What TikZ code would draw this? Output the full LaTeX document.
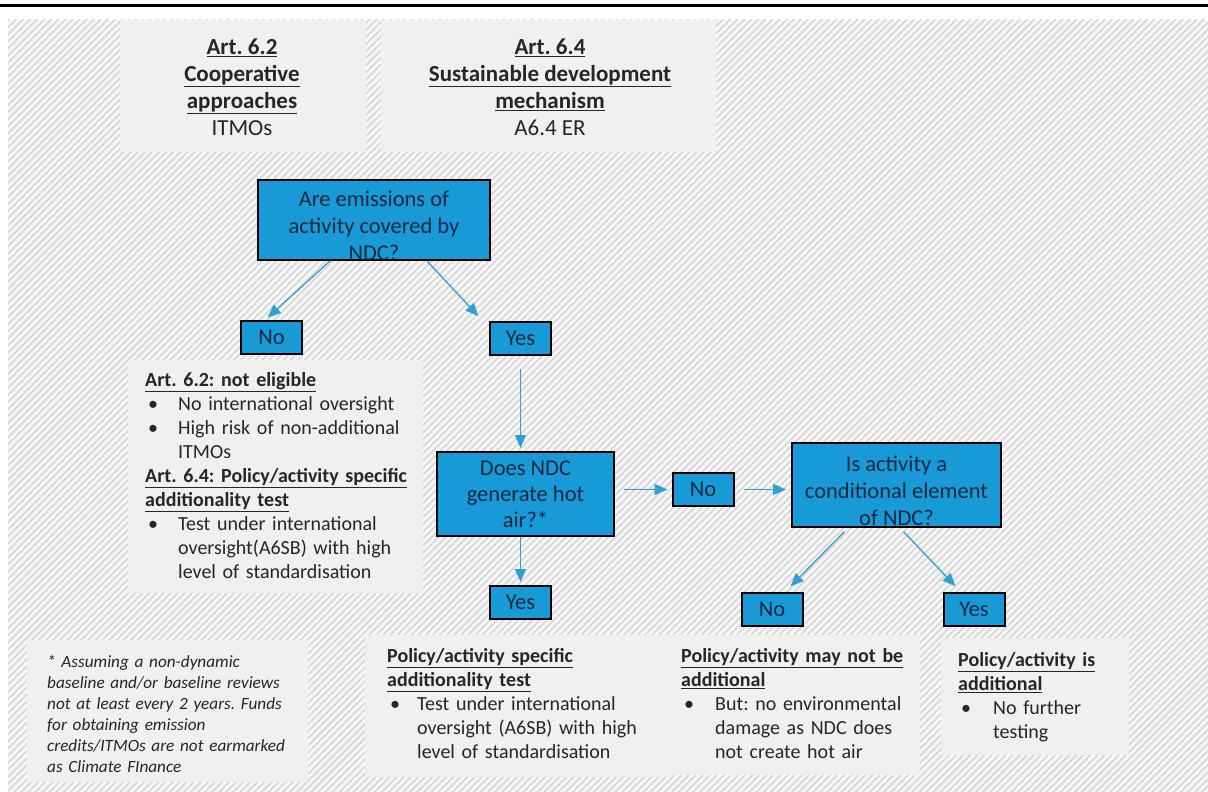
\documentclass[tikz,border=0pt]{standalone}
\usepackage{fontspec}
\setmainfont{Carlito}
\usepackage{tikz}
\usetikzlibrary{arrows.meta,patterns.meta,calc}
\usepackage{xcolor}

\definecolor{boxblue}{RGB}{24,154,214}
\definecolor{boxtext}{RGB}{25,40,65}
\definecolor{arrblue}{RGB}{48,160,210}
\definecolor{panelgrey}{RGB}{240,240,240}
\definecolor{hatchbg}{RGB}{246,246,246}
\definecolor{hatchline}{RGB}{214,214,214}

\newcommand{\hd}[1]{\textbf{\underline{#1}}}
\newcommand{\bitem}[2][30pt]{\par\noindent\hspace*{3pt}\makebox[\dimexpr#1-3pt\relax][l]{\textbullet}%
    \parbox[t]{240pt}{\raggedright#2\strut}\par\prevdepth=\dp\strutbox}
\newcommand{\lowstrut}{\rule{0pt}{26pt}}

\begin{document}
\begin{tikzpicture}[x=1pt, y=-1pt,
    qbox/.style={draw=black, line width=2pt, fill=boxblue, text=boxtext, align=center,
        inner sep=2pt, font=\fontsize{22.5}{26}\selectfont},
    lowbox/.style={qbox, font=\fontsize{22.5}{27}\selectfont, inner ysep=0pt, text depth=0pt},
    ansbox/.style={qbox, minimum width=61pt, minimum height=33pt, inner sep=0pt},
    arr/.style={-{Triangle[length=13pt,width=11pt]}, draw=arrblue, line width=1.3pt},
    panel/.style={fill=panelgrey},
    ptext/.style={anchor=north west, align=left, inner sep=0pt, text=black!85,
        text width=300pt, font=\fontsize{20}{24}\selectfont\frenchspacing}]
    \useasboundingbox (0,0) rectangle (1208,792);

    % Background
    \draw[line width=3pt] (0,6) -- (1208,6);
    \fill[hatchbg] (8,20) rectangle (1208,792);
    \fill[pattern={Lines[angle=45,distance=5pt,line width=1.6pt]}, pattern color=hatchline]
        (8,20) rectangle (1208,792);

    % Panels
    \fill[panel] (120,20) rectangle (366,152);
    \fill[panel] (381,20) rectangle (716,152);
    \fill[panel] (128,360) rectangle (423,593);
    \fill[panel] (27,640) rectangle (308,782);
    \fill[panel] (365,635) rectangle (672,777);
    \fill[panel] (672,635) rectangle (920,775);
    \fill[panel] (941,638) rectangle (1129,755);

    % Headings
    \node[align=center, text=black!85, font=\fontsize{23}{27}\selectfont\frenchspacing] (art62) at (242,87)
        {\hd{Art. 6.2}\\ \hd{Cooperative}\\ \hd{approaches}\\ ITMOs};
    \node[align=center, text=black!85, font=\fontsize{23}{27}\selectfont\frenchspacing] (art64) at (550,87)
        {\hd{Art. 6.4}\\ \hd{Sustainable development}\\ \hd{mechanism}\\ A6.4 ER};

    % Boxes
    \node[lowbox, minimum width=232pt, minimum height=80pt] (covered) at (374,220)
        {\lowstrut Are emissions of\\ activity covered by\\ NDC?};
    \node[ansbox] (no1) at (271.5,337) {No};
    \node[ansbox] (yes1) at (520.5,338) {Yes};
    \node[qbox, minimum width=177pt, minimum height=84pt] (hotair) at (525.5,494)
        {Does NDC\\ generate hot\\ air?*};
    \node[ansbox] (yes2) at (520.5,602.5) {Yes};
    \node[ansbox] (no2) at (703,489.5) {No};
    \node[lowbox, minimum width=209pt, minimum height=84pt] (conditional) at (896.5,485)
        {\lowstrut Is activity a\\ conditional element\\ of NDC?};
    \node[ansbox] (no3) at (772,609.5) {No};
    \node[ansbox] (yes3) at (974,609.5) {Yes};

    % Arrows
    \draw[arr, shorten >=3pt] ([xshift=-44pt]covered.south) -- ([xshift=-6pt]no1.north);
    \draw[arr, shorten >=6pt] ([xshift=53pt]covered.south) -- ([xshift=-38pt]yes1.north);
    \draw[arr, shorten <=13pt, shorten >=3pt] (yes1.south) -- (yes1.south |- hotair.north);
    \draw[arr, shorten >=3pt] (yes2.north |- hotair.south) -- (yes2.north);
    \draw[arr, shorten <=9pt, shorten >=4pt] (hotair.east |- no2) -- (no2.west);
    \draw[arr, shorten <=9pt, shorten >=5pt] (no2.east) -- (conditional.west |- no2);
    \draw[arr, shorten <=5pt, shorten >=8pt] ([xshift=-48.5pt]conditional.south) -- ([xshift=13pt]no3.north);
    \draw[arr, shorten <=5pt, shorten >=8pt] ([xshift=3.5pt]conditional.south) -- ([xshift=-13pt]yes3.north);

    % Panel texts
    \node[ptext] (noteligible) at (145,372) {\hd{Art. 6.2: not eligible}
        \bitem[33pt]{No international oversight}
        \bitem[33pt]{High risk of non-additional\\ ITMOs}
        \noindent\hd{Art. 6.4: Policy/activity specific}\\ \hd{additionality test}
        \bitem[33pt]{Test under international\\ oversight(A6SB) with high\\ level of standardisation}};
    \node[ptext, font=\fontsize{17.2}{21}\itshape\frenchspacing] (footnote) at (47,655)
        {* Assuming a non-dynamic\\ baseline and/or baseline reviews\\ not at least every 2 years. Funds\\
        for obtaining emission\\ credits/ITMOs are not earmarked\\ as Climate FInance};
    \node[ptext] (specific) at (387,648) {\hd{Policy/activity specific}\\ \hd{additionality test}
        \bitem{Test under international\\ oversight (A6SB) with high\\ level of standardisation}};
    \node[ptext] (maynot) at (681,648) {\hd{Policy/activity may not be}\\ \hd{additional}
        \bitem[34pt]{But: no environmental\\ damage as NDC does\\ not create hot air}};
    \node[ptext] (isadd) at (958,652) {\hd{Policy/activity is}\\ \hd{additional}
        \bitem[35pt]{No further\\ testing}};
\end{tikzpicture}
\end{document}
